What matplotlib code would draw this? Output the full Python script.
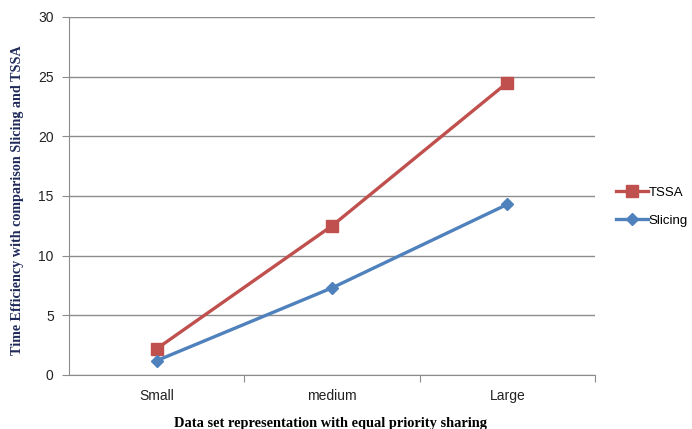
import matplotlib
matplotlib.use("Agg")
import matplotlib.pyplot as plt

categories = ["Small", "medium", "Large"]
tssa = [2.2, 12.5, 24.5]
slicing = [1.2, 7.3, 14.3]
y_ticks = [0, 5, 10, 15, 20, 25, 30]

RED = "#C0504D"
BLUE = "#4F81BD"
GRID = "#8C8C8C"

fig = plt.figure(figsize=(6.92, 4.29), dpi=100)
ax = fig.add_axes([69 / 692, 54 / 429, 526 / 692, 358 / 429])

x = range(len(categories))
ax.plot(x, tssa, color=RED, lw=2.4, marker="s", ms=8, label="TSSA")
ax.plot(x, slicing, color=BLUE, lw=2.4, marker="D", ms=6.5, label="Slicing")

ax.set_xlim(-0.5, len(categories) - 0.5)
ax.set_ylim(0, 30)
ax.set_yticks(y_ticks)
ax.yaxis.grid(True, color=GRID, lw=1)
ax.set_axisbelow(True)

# category labels centred, tick marks on the boundaries (Excel style)
ax.set_xticks([i + 0.5 for i in x])
ax.set_xticklabels([])
ax.set_xticks(list(x), minor=True)
ax.set_xticklabels(categories, minor=True)
ax.tick_params(axis="x", which="minor", length=0, pad=10)
ax.tick_params(axis="x", which="major", length=5, color=GRID, direction="out")
ax.tick_params(axis="y", length=5, color=GRID, direction="out", pad=6)

for lab in ax.get_xticklabels(minor=True) + ax.get_yticklabels():
    lab.set_family("Liberation Sans")
    lab.set_fontsize(10)
    lab.set_color("#222222")

for side in ["top", "right"]:
    ax.spines[side].set_visible(False)
for side in ["left", "bottom"]:
    ax.spines[side].set_color(GRID)

ax.legend(loc="center left", bbox_to_anchor=(1.018, 0.47), frameon=False,
          handlelength=2.4, handletextpad=0.05, labelspacing=1.2,
          prop={"family": "Liberation Sans", "size": 9.5})

fig.text(18 / 692, 0.5 + 14 / 429, "Time Efficiency with comparison Slicing and TSSA",
         rotation=90, ha="center", va="center", family="Liberation Serif",
         weight="bold", fontsize=10.2, color="#1F2A5A")
fig.text(330 / 692, 12 / 429, "Data set representation with equal priority sharing",
         ha="center", va="top", family="Liberation Serif", weight="bold",
         fontsize=10.4, color="black")

fig.savefig("out.png", dpi=100, facecolor="white")
